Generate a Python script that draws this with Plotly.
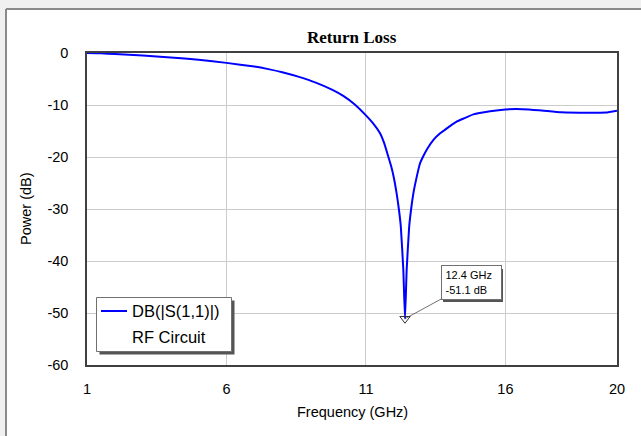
import plotly.graph_objects as go

# ---- data ----
freq_ghz = [1.0, 1.5, 2.0, 3.0, 4.0, 5.0, 6.0, 7.0, 7.5, 8.0, 8.6, 9.2, 9.8, 10.2, 10.6,
            11.0, 11.25, 11.5, 11.65, 11.8, 11.9, 12.0, 12.1, 12.18, 12.25, 12.34, 12.4,
            12.46, 12.55, 12.62, 12.7, 12.8, 12.94, 13.05, 13.2, 13.42, 13.65, 13.8, 14.0,
            14.25, 14.5, 14.85, 15.45, 16.0, 16.6, 17.2, 18.0, 19.0, 19.6, 20.0]
s11_db = [0.0, -0.05, -0.2, -0.5, -0.85, -1.3, -1.9, -2.6, -3.1, -3.7, -4.6, -5.7, -7.1,
          -8.3, -9.9, -12.0, -13.5, -15.4, -17.3, -19.9, -21.7, -24.0, -27.0, -30.0, -33.4,
          -41.7, -51.1, -41.7, -33.4, -30.0, -27.0, -24.3, -21.2, -19.9, -18.4, -16.7,
          -15.5, -14.9, -14.1, -13.2, -12.6, -11.8, -11.2, -10.85, -10.8, -11.0, -11.4,
          -11.5, -11.45, -11.1]
marker_freq = [12.4]
marker_db = [-51.1]
x_ticks = [1, 6, 11, 16, 20]
y_ticks = [0, -10, -20, -30, -40, -50, -60]
y_tick_text = ["0", "-10", "-20", "-30", "-40", "-50", "-60"]
series_name = "DB(|S(1,1)|)"
series_sub = "RF Circuit"

W, H = 641, 436
L, R, T, B = 87, 617, 53, 365  # plot area in pixels


def px(x):
    return (x - L) / (R - L)


def py(y):
    return (B - y) / (B - T)


font = "Liberation Sans, Arial, sans-serif"
blue = "#0000ff"

fig = go.Figure()
fig.add_trace(go.Scatter(x=freq_ghz, y=s11_db, mode="lines",
                         line=dict(color=blue, width=2, shape="spline", smoothing=0.4),
                         name=series_name, showlegend=False))
fig.add_trace(go.Scatter(x=marker_freq, y=marker_db, mode="markers",
                         marker=dict(symbol="triangle-down-open", size=9,
                                     color="#333333", line=dict(width=1)),
                         showlegend=False, hoverinfo="skip"))

shapes = [
    # outer window frame background
    dict(type="rect", xref="paper", yref="paper", x0=px(6), x1=px(700), y0=py(500), y1=py(9),
         fillcolor="white", line=dict(width=0), layer="below"),
    dict(type="line", xref="paper", yref="paper", x0=px(6), x1=px(6), y0=py(9), y1=py(500),
         line=dict(color="#8a8a8a", width=2)),
    dict(type="line", xref="paper", yref="paper", x0=px(6), x1=px(700), y0=py(9), y1=py(9),
         line=dict(color="#8a8a8a", width=2)),
    # legend shadow + box
    dict(type="rect", xref="paper", yref="paper", x0=px(99.5), x1=px(234.5), y0=py(354.5), y1=py(300.5),
         fillcolor="#555555", line=dict(width=0), layer="above"),
    dict(type="rect", xref="paper", yref="paper", x0=px(96.5), x1=px(231.5), y0=py(351.5), y1=py(297.5),
         fillcolor="white", line=dict(color="#707070", width=1), layer="above"),
    dict(type="line", xref="paper", yref="paper", x0=px(101), x1=px(127), y0=py(311), y1=py(311),
         line=dict(color=blue, width=2), layer="above"),
    # marker label shadow
    dict(type="rect", xref="paper", yref="paper", x0=px(443), x1=px(503), y0=py(302), y1=py(269),
         fillcolor="#555555", line=dict(width=0), layer="above"),
]

annotations = [
    dict(text="<b>Return Loss</b>", xref="paper", yref="paper", x=0.5, y=py(38),
         showarrow=False, font=dict(family="Liberation Serif, Times New Roman, serif", size=17, color="black"),
         xanchor="center", yanchor="middle"),
    dict(text="Power (dB)", xref="paper", yref="paper", x=px(26), y=0.5, textangle=-90,
         showarrow=False, font=dict(family=font, size=14.5, color="black"),
         xanchor="center", yanchor="middle"),
    dict(text="Frequency (GHz)", xref="paper", yref="paper", x=0.5, y=py(412),
         showarrow=False, font=dict(family=font, size=14.5, color="black"),
         xanchor="center", yanchor="middle"),
    dict(text=series_name, xref="paper", yref="paper", x=px(130), y=py(311),
         showarrow=False, font=dict(family=font, size=16.5, color="black"),
         xanchor="left", yanchor="middle"),
    dict(text=series_sub, xref="paper", yref="paper", x=px(130), y=py(337),
         showarrow=False, font=dict(family=font, size=16.5, color="black"),
         xanchor="left", yanchor="middle"),
    dict(text=f"{marker_freq[0]} GHz<br>{marker_db[0]} dB", x=marker_freq[0], y=marker_db[0],
         xref="x", yref="y", showarrow=True, arrowhead=0, arrowwidth=0.7, arrowcolor="#333333",
         ax=66, ay=-36, axref="pixel", ayref="pixel", align="left",
         width=52, height=26, borderpad=3.5, bgcolor="white", bordercolor="#707070", borderwidth=1,
         font=dict(family=font, size=11, color="black")),
]

fig.update_layout(
    width=W, height=H,
    margin=dict(l=L, r=W - R, t=T, b=H - B, autoexpand=False),
    paper_bgcolor="#f0f0f0", plot_bgcolor="white",
    showlegend=False,
    shapes=shapes, annotations=annotations,
    xaxis=dict(range=[1, 20], tickvals=x_ticks, showgrid=True, gridcolor="#cccccc", gridwidth=1,
               showline=True, linecolor="#404040", linewidth=1.5, mirror=True, zeroline=False,
               ticks="", ticklabelstandoff=10,
               tickfont=dict(family=font, size=14.5, color="black")),
    yaxis=dict(range=[-60, 0], tickvals=y_ticks, ticktext=y_tick_text, showgrid=True,
               gridcolor="#cccccc", gridwidth=1,
               showline=True, linecolor="#404040", linewidth=1.5, mirror=True, zeroline=False,
               ticks="", ticklabelstandoff=14,
               tickfont=dict(family=font, size=14.5, color="black")),
)

fig.write_html("out.html")
